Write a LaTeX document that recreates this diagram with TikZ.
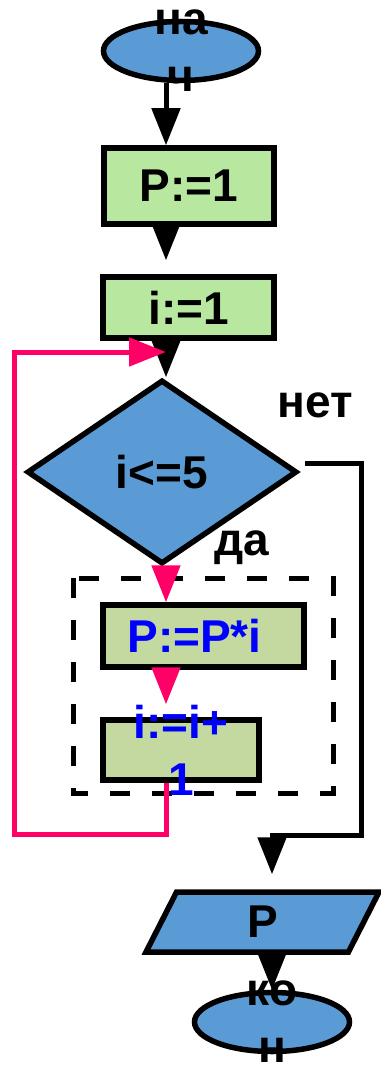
\documentclass[tikz,border=0pt]{standalone}
\usepackage{fontspec}
\setmainfont{Liberation Sans}
\usetikzlibrary{shapes.geometric,arrows.meta}
\definecolor{termblue}{RGB}{91,155,213}
\definecolor{initgreen}{RGB}{184,232,160}
\definecolor{bodygreen}{RGB}{195,217,160}
\definecolor{looppink}{RGB}{255,0,102}
\definecolor{bodytext}{RGB}{0,0,255}

\begin{document}
\begin{tikzpicture}[x=1pt, y=-1pt,
    txt/.style={font=\fontsize{46}{57}\selectfont\bfseries, align=center},
    term/.style={ellipse, draw, line width=5.5pt, fill=termblue, inner sep=0pt,
        minimum width=155pt, minimum height=59pt},
    initbox/.style={rectangle, draw, line width=5.5pt, fill=initgreen, inner sep=0pt, txt},
    bodybox/.style={rectangle, draw, line width=5.5pt, fill=bodygreen, inner sep=0pt},
    arr/.style={line width=5pt, -{Triangle[width=28pt,length=37pt]}},
    looparr/.style={arr, draw=looppink}]
    \useasboundingbox (0,0) rectangle (380,1067);

    % loop body frame
    \draw[line width=5pt, dash pattern=on 20pt off 22pt] (73,578) rectangle (333,793);

    % blocks
    \node[term, label={[txt]center:на\\ч}] (start) at (181,51) {};
    \node[initbox, minimum width=170pt, minimum height=76pt] (p1) at (189,186) {P:=1};
    \node[initbox, minimum width=171pt, minimum height=61pt] (i1) at (188.5,307.5) {i:=1};
    \node[diamond, draw, line width=5.5pt, fill=termblue, inner sep=0pt, aspect=1.47,
        minimum width=270pt, minimum height=184pt, txt] (cond) at (162,472) {i<=5};
    \node[bodybox, minimum width=201pt, minimum height=62pt,
        label={[txt, text=bodytext, xshift=-9pt]center:P:=P*i}] (body1) at (203.5,636) {};
    \node[bodybox, minimum width=156pt, minimum height=60pt,
        label={[txt, text=bodytext]center:i:=i+\\1}] (body2) at (181,750) {};
    \node[trapezium, trapezium left angle=46, trapezium right angle=134,
        trapezium stretches body, draw, line width=5.5pt, fill=termblue, inner sep=0pt,
        minimum width=233pt, minimum height=60pt, txt] (out) at (262.5,922) {P};
    \node[term, label={[txt]center:ко\\н}] (stop) at (272,1022) {};

    % branch labels
    \node[txt] (no) at (315,405) {нет};
    \node[txt] (yes) at (242,548) {да};

    % turning points
    \coordinate (axis) at (166,0);
    \coordinate (merge) at (166,352);
    \coordinate (loopl) at (14,834);
    \coordinate (turn) at (361,835);

    % connectors
    \draw[arr] (start.south -| axis) -- (p1.north -| axis);
    \draw[arr, shorten >=14pt] (p1.south -| axis) -- (i1.north -| axis);
    \draw[arr] (i1.south -| axis) -- (cond.north -| axis);
    \draw[looparr] (cond.south -| axis) -- (body1.north -| axis);
    \draw[looparr, shorten >=13pt] (body1.south -| axis) -- (body2.north -| axis);
    \draw[looparr] (body2.south -| axis) |- (loopl) |- (merge);
    \draw[arr, shorten >=15pt] ([xshift=5pt, yshift=9pt]cond.east) -| (turn)
        -| (out.north -| stop.north);
    \draw[arr] (out.south -| stop.north) -- (stop.north);
\end{tikzpicture}
\end{document}
